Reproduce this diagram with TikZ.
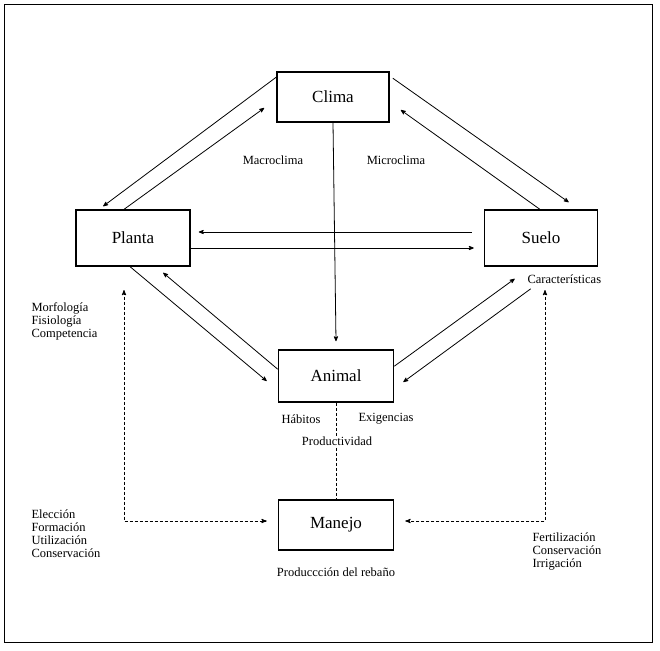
\documentclass[tikz,border=0pt]{standalone}
\usepackage{fontspec}
\setmainfont{Liberation Serif}
\usetikzlibrary{arrows,calc}
\begin{document}
\begin{tikzpicture}[x=1pt,y=-1pt,>=stealth',
  box/.style={draw,line width=1.6pt,minimum width=112pt,minimum height=50pt,font=\fontsize{17}{20}\selectfont},
  lab/.style={font=\fontsize{12.5}{15}\selectfont,align=left},
  arr/.style={->,line width=0.8pt},
  dashline/.style={densely dashed,line width=0.9pt}]
  \useasboundingbox (0,0) rectangle (660,650);
  \draw[line width=0.5pt] (4,4) rectangle (652,642);
  \node[box] (clima) at (333,97) {Clima};
  \node[box,minimum width=114pt,minimum height=56pt] (planta) at (133,238) {Planta};
  \node[box,minimum width=113pt,minimum height=56pt] (suelo) at (541,238) {Suelo};
  \node[box,minimum width=115pt,minimum height=52pt] (animal) at (336,376) {Animal};
  \node[box,minimum width=115pt] (manejo) at (336,525) {Manejo};

  % Clima - Planta
  \draw[arr] ($(clima.north west)+(0,6)$) -- ($(planta.north west)+(28,-3)$);
  \draw[arr] ($(planta.north west)+(49,0)$) -- ($(clima.west)+(-12,11)$);
  % Clima - Suelo
  \draw[arr] ($(clima.north east)+(3,7)$) -- ($(suelo.north west)+(85,-7)$);
  \draw[arr] ($(suelo.north west)+(56,0)$) -- ($(clima.east)+(11,13)$);
  % Planta - Suelo
  \draw[arr] ($(suelo.west)+(-12,-6)$) -- ($(planta.east)+(8,-6)$);
  \draw[arr] ($(planta.east)+(0,10)$) -- ($(suelo.west)+(-10,10)$);
  % Clima - Animal
  \draw[arr] (clima.south) -- ($(animal.north)+(0,-8)$);
  % Planta - Animal
  \draw[arr] ($(planta.south west)+(55,0)$) -- ($(animal.west)+(-11,5)$);
  \draw[arr] ($(animal.north west)+(0,20)$) -- ($(planta.south west)+(88,6)$);
  % Suelo - Animal
  \draw[arr] ($(animal.north east)+(0,17)$) -- ($(suelo.south west)+(31,12)$);
  \draw[arr] ($(suelo.south west)+(47,22)$) -- ($(animal.east)+(9,6)$);
  % Manejo
  \draw[dashline] (animal.south) -- (manejo.north);
  \draw[dashline,<->] (124,290) |- ($(manejo.west)+(-11,-4)$);
  \draw[dashline,<->] (545,290) |- ($(manejo.east)+(11,-4)$);

  \node[lab] (macro) at (273,160) {Macroclima};
  \node[lab] (micro) at (396,160) {Microclima};
  \node[lab,anchor=west] (caract) at (524,279) {Características};
  \node[lab,anchor=north west] (morfo) at (28,299) {Morfología\\[-2pt]Fisiología\\[-2pt]Competencia};
  \node[lab,fill=white,inner sep=1pt] (habitos) at (301,419) {Hábitos};
  \node[lab,fill=white,inner sep=1pt] (exig) at (386,419) {Exigencias};
  \node[lab,fill=white,inner sep=1pt] (prod) at (337,441) {Productividad};
  \node[lab] (rebano) at (336,572) {Produccción del rebaño};
  \node[lab,anchor=north west] (elec) at (28,506) {Elección\\[-2pt]Formación\\[-2pt]Utilización\\[-2pt]Conservación};
  \node[lab,anchor=north west] (fert) at (529,529) {Fertilización\\[-2pt]Conservación\\[-2pt]Irrigación};
\end{tikzpicture}
\end{document}
